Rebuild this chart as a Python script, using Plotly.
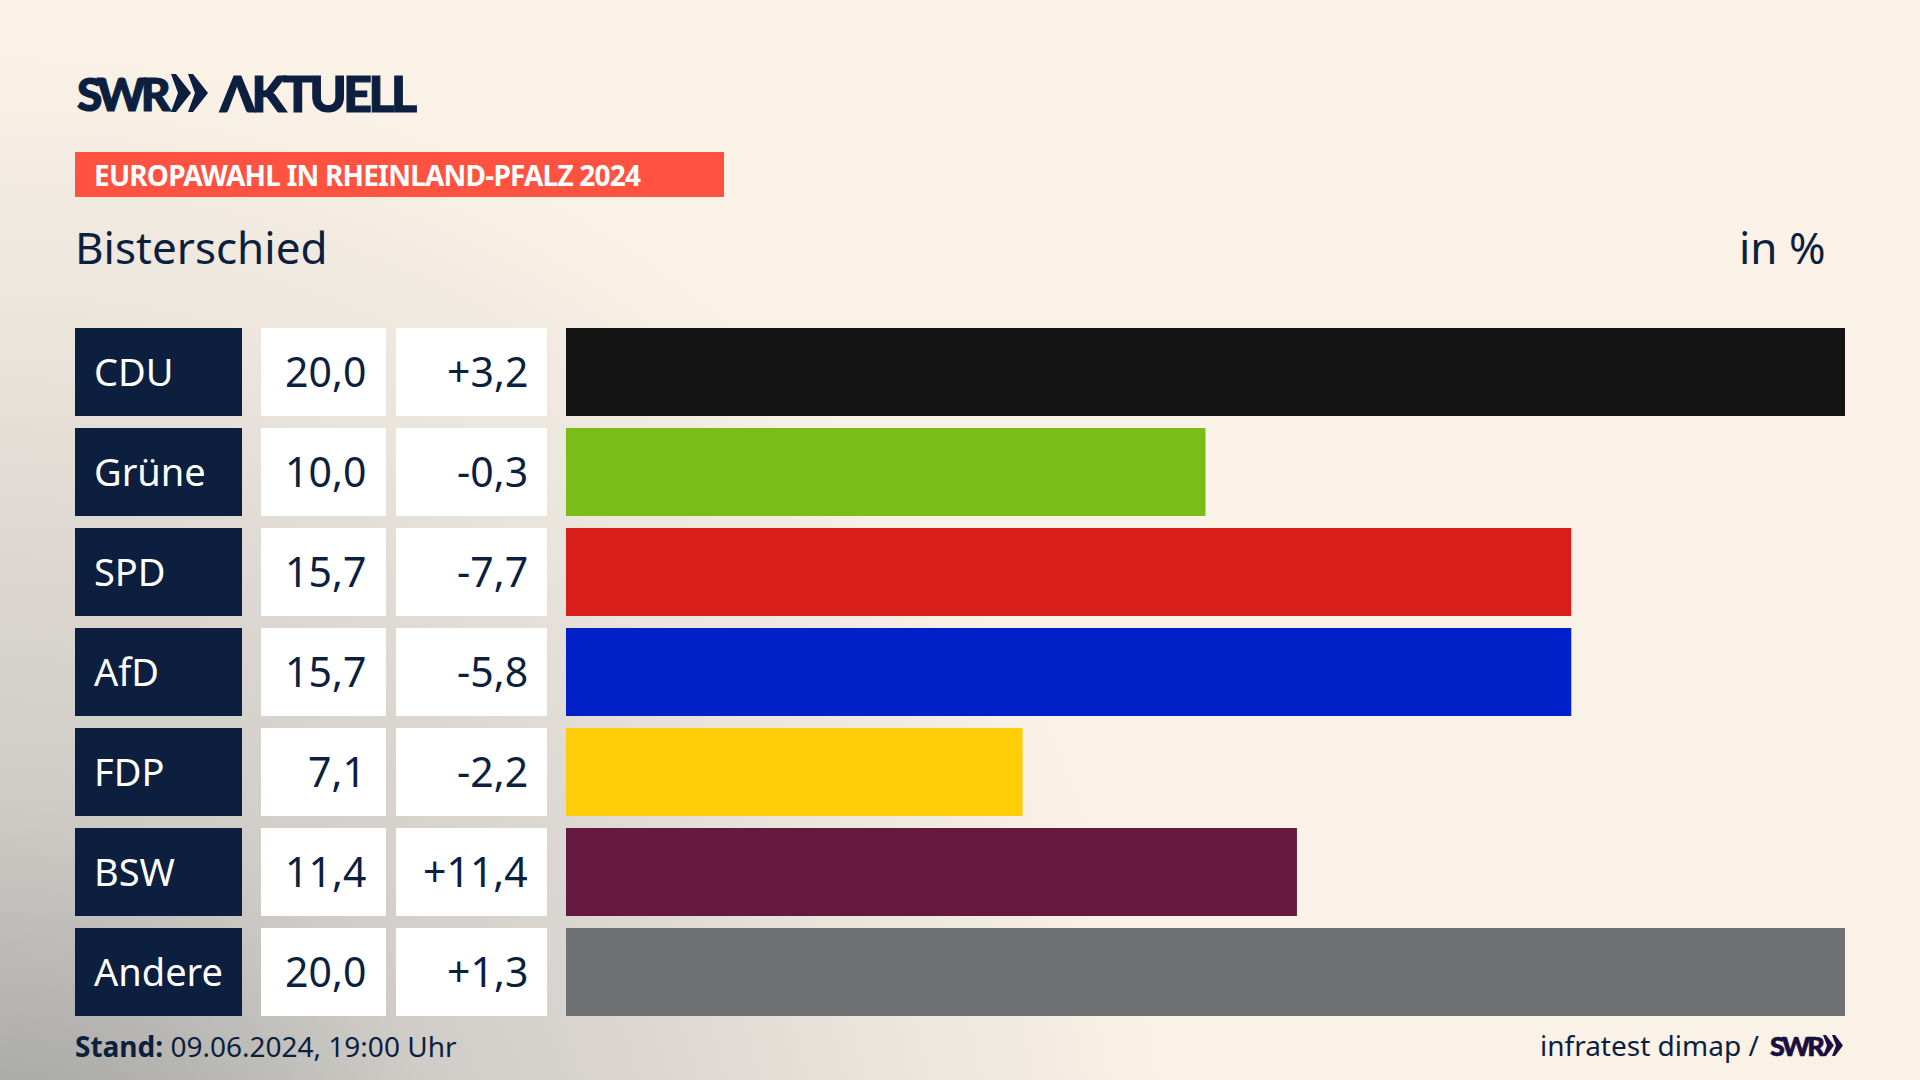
"""SWR Aktuell result graphic: Europawahl 2024, Bisterschied."""

import plotly.graph_objects as go

parties = ["CDU", "Grüne", "SPD", "AfD", "FDP", "BSW", "Andere"]
shares = ["20,0", "10,0", "15,7", "15,7", "7,1", "11,4", "20,0"]
# lengths measured off the bars, a little finer than the printed one-decimal labels
bar_lengths = [20.0, 10.0, 15.72, 15.72, 7.14, 11.43, 20.0]
changes = ["+3,2", "-0,3", "-7,7", "-5,8", "-2,2", "+11,4", "+1,3"]
bar_colors = ["#141414", "#7ABD18", "#D81F1C", "#0020C8", "#FFCE08", "#66193F", "#707173"]

W, H = 1920, 1080
NAVY = "#0C1F3F"
CREAM = "#FBF2E7"
FONT = "Noto Sans"
LOGO_FONT = "Lato"


def px(x):
    return x / W


def py(y):
    return 1 - y / H


def chevrons(starts, top, bottom, width, notch, color, flat):
    mid = (top + bottom) / 2
    shapes = []
    for x in starts:
        path = (
            f"M {px(x)} {py(top)} L {px(x + flat)} {py(top)} L {px(x + width)} {py(mid)} "
            f"L {px(x + flat)} {py(bottom)} L {px(x)} {py(bottom)} L {px(x + notch)} {py(mid)} Z"
        )
        shapes.append(dict(type="path", path=path, xref="paper", yref="paper",
                           fillcolor=color, line=dict(width=0)))
    return shapes


def label(text, x, y, size, color=NAVY, anchor="left", family=FONT, weight="normal"):
    return dict(text=text, x=px(x), y=py(y), xref="paper", yref="paper", showarrow=False,
                xanchor=anchor, yanchor="middle", align=anchor,
                font=dict(family=family, size=size, color=color, weight=weight))


fig = go.Figure()

# corner shading behind everything, lives on its own full-page axes
fig.add_trace(go.Scatter(
    x=[-1250, 1250, 1250, -1250, -1250], y=[-20, -20, 2580, 2580, -20],
    mode="lines", line=dict(width=0), fill="toself", hoverinfo="skip",
    fillgradient=dict(type="radial", colorscale=[
        [0.0, "#A3A3A2"], [0.15, "#ABABA9"], [0.37, "#CFCCC7"], [0.6, "#DFDAD3"],
        [0.72, "#EAE4DB"], [0.85, "#F3EBE1"], [0.95, CREAM], [1.0, CREAM]]),
    xaxis="x", yaxis="y",
))

fig.add_trace(go.Bar(
    x=bar_lengths, y=parties, orientation="h", marker=dict(color=bar_colors, line=dict(width=0)),
    xaxis="x2", yaxis="y2", hoverinfo="skip",
))

shapes = [dict(type="rect", xref="paper", yref="paper", x0=px(75), x1=px(724), y0=py(152), y1=py(197),
               fillcolor="#FF5240", line=dict(width=0))]
annotations = [
    label(f'<span style="letter-spacing:-5px;stroke:{NAVY};stroke-width:1.2px">SWR</span>', 75, 93, 46, family=LOGO_FONT, weight=900),
    label(f'<span style="letter-spacing:-3.5px;stroke:{NAVY};stroke-width:1.2px">ΛKTUELL</span>', 217, 93, 50, family=LOGO_FONT, weight=900),
    label('<span style="letter-spacing:-0.8px"><b>EUROPAWAHL IN RHEINLAND-PFALZ 2024</b></span>', 92, 175, 28, color="white"),
    label("Bisterschied", 73, 247, 44),
    label("in %", 1828, 247, 44, anchor="right"),
    label("<b>Stand:</b> 09.06.2024, 19:00 Uhr", 73, 1046, 28),
    label("infratest dimap /", 1761, 1045, 28, anchor="right"),
    label('<span style="letter-spacing:-3px;stroke:#1A0F3F;stroke-width:0.6px">SWR</span>', 1768, 1045, 27, color="#1A0F3F", family=LOGO_FONT, weight=900),
]
shapes += chevrons([171, 188], 74, 112, 20, 7, NAVY, 5)
shapes += chevrons([1823, 1832], 1035, 1056, 11, 4, "#1A0F3F", 3)

for i, party in enumerate(parties):
    top = 328 + i * 100
    bottom = top + 88
    mid = (top + bottom) / 2 - 1
    for x0, x1, color in [(75, 242, NAVY), (261, 386, "white"), (396, 547, "white")]:
        shapes.append(dict(type="rect", xref="paper", yref="paper", x0=px(x0), x1=px(x1),
                           y0=py(top), y1=py(bottom), fillcolor=color, line=dict(width=0)))
    annotations.append(label(party, 92, mid, 38, color="white"))
    annotations.append(label(shares[i], 368, mid, 41, anchor="right"))
    annotations.append(label(changes[i], 530, mid, 41, anchor="right"))

hidden = dict(visible=False, fixedrange=True)
fig.update_layout(
    width=W, height=H, margin=dict(l=0, r=0, t=0, b=0),
    paper_bgcolor=CREAM, plot_bgcolor="rgba(0,0,0,0)",
    showlegend=False, bargap=0.12, shapes=shapes, annotations=annotations,
    xaxis=dict(range=[0, W], domain=[0, 1], **hidden),
    yaxis=dict(range=[H, 0], domain=[0, 1], **hidden),
    xaxis2=dict(range=[0, 20], domain=[px(566), px(1845)], anchor="y2", **hidden),
    yaxis2=dict(range=[6.5, -0.5], domain=[py(1022), py(322)], anchor="x2", type="category", **hidden),
)

# default page margin would push the picture off by 8px
fig.write_html(
    "out.html",
    config={"displayModeBar": False},
    post_script="document.body.style.margin='0';document.body.style.overflow='hidden';",
)
